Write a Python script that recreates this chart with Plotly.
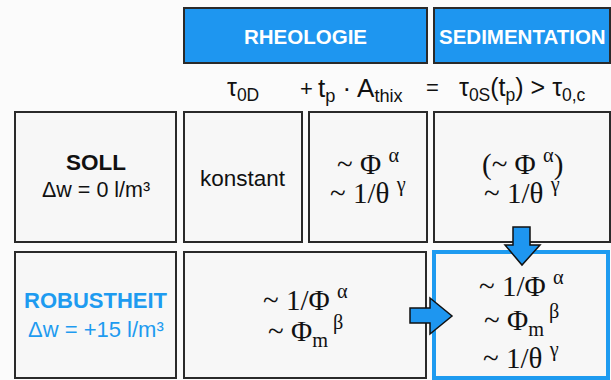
import plotly.graph_objects as go

# ---- content ----
column_headers = ["RHEOLOGIE", "SEDIMENTATION"]
formula_parts = ["τ<sub>0D</sub>", "+", "t<sub>p</sub> · A<sub>thix</sub>", "=",
                 "τ<sub>0S</sub>(t<sub>p</sub>) > τ<sub>0,c</sub>"]
row_titles = ["SOLL", "ROBUSTHEIT"]
row_subtitles = ["Δw = 0 l/m³", "Δw = +15 l/m³"]
soll_cells = [
    ["konstant"],
    ["~ Φ <sup>α</sup>", "~ 1/θ <sup>γ</sup>"],
    ["(~ Φ <sup>α</sup>)", "~ 1/θ <sup>γ</sup>"],
]
robust_cells = [
    ["~ 1/Φ <sup>α</sup>", "~ Φ<sub>m</sub><sup> β</sup>"],
    ["~ 1/Φ <sup>α</sup>", "~ Φ<sub>m</sub><sup> β</sup>", "~ 1/θ <sup>γ</sup>"],
]

BLUE = "#1e96f0"
DARK = "#2a2a2a"
SANS = "Liberation Sans, Arial, sans-serif"
SERIF = "Liberation Serif, Times New Roman, serif"

fig = go.Figure()
fig.add_trace(go.Scatter(x=[], y=[], mode="markers", showlegend=False))

shapes = []
ann = []

def rect(x0, y0, x1, y1, fill="#f7f7f7", line=DARK, w=2):
    shapes.append(dict(type="rect", x0=x0, y0=y0, x1=x1, y1=y1, xref="x", yref="y",
                       fillcolor=fill, line=dict(color=line, width=w), layer="below"))

def text(x, y, s, size, color="#111", family=SANS, xanchor="center"):
    ann.append(dict(x=x, y=y, xref="x", yref="y", text=s, showarrow=False,
                    font=dict(size=size, color=color, family=family),
                    xanchor=xanchor, yanchor="middle"))

# header boxes
header_x = [(184, 427), (434, 610)]
for (x0, x1), h in zip(header_x, column_headers):
    rect(x0, 8, x1, 63, fill=BLUE, line=DARK, w=2)
    text((x0 + x1) / 2, 36, "<b>" + h + "</b>", 20.5, color="white")

# formula line
fy = 89
text(243, fy, formula_parts[0], 25)
text(306, fy - 1, formula_parts[1], 22)
text(316, fy, formula_parts[2], 26, xanchor="left")
text(432, fy - 2, formula_parts[3], 22)
text(457, fy, formula_parts[4], 25, xanchor="left")

# row 1
r1 = (112, 242)
col_x = [(15, 176), (184, 302), (309, 427), (434, 610)]
rect(col_x[0][0], r1[0], col_x[0][1], r1[1])
text(96, 162, "<b>" + row_titles[0] + "</b>", 22.5)
text(96, 190, row_subtitles[0], 21.5)
for (x0, x1), lines in zip(col_x[1:], soll_cells):
    rect(x0, r1[0], x1, r1[1])
    cx = (x0 + x1) / 2
    if len(lines) == 1:
        text(cx, 178, lines[0], 22.5)
    else:
        text(cx, 162, lines[0], 29, family=SERIF)
        text(cx, 191, lines[1], 29, family=SERIF)

# row 2
r2 = (252, 378)
rect(15, r2[0], 176, r2[1])
text(96, 300, "<b>" + row_titles[1] + "</b>", 22, color="#1e9bf0")
text(96, 329, row_subtitles[1], 22, color="#1e9bf0")
rect(184, r2[0], 426, r2[1])
text(305, 298, robust_cells[0][0], 29, family=SERIF)
text(305, 331, robust_cells[0][1], 29, family=SERIF)
rect(434, r2[0], 608, r2[1], line="#1e9bf0", w=4)
for y, s in zip([284, 320, 356], robust_cells[1]):
    text(521, y, s, 29, family=SERIF)

# arrows
down = "M 513 227 L 530 227 L 530 245 L 540 245 L 522 265 L 505 245 L 513 245 Z"
right = "M 410 308 L 430 308 L 430 298 L 452 316 L 430 334 L 430 323 L 410 323 Z"
for p in (down, right):
    shapes.append(dict(type="path", path=p, xref="x", yref="y", fillcolor=BLUE,
                       line=dict(color="#111", width=1.5), layer="above"))

fig.update_layout(
    width=611, height=380, margin=dict(l=0, r=0, t=0, b=0),
    paper_bgcolor="#fbfbfb", plot_bgcolor="#fbfbfb",
    xaxis=dict(range=[0, 611], visible=False, fixedrange=True),
    yaxis=dict(range=[380, 0], visible=False, fixedrange=True),
    shapes=shapes, annotations=ann, showlegend=False,
)
fig.write_html("out.html", config={"displayModeBar": False},
               post_script="document.body.style.margin='0';")
